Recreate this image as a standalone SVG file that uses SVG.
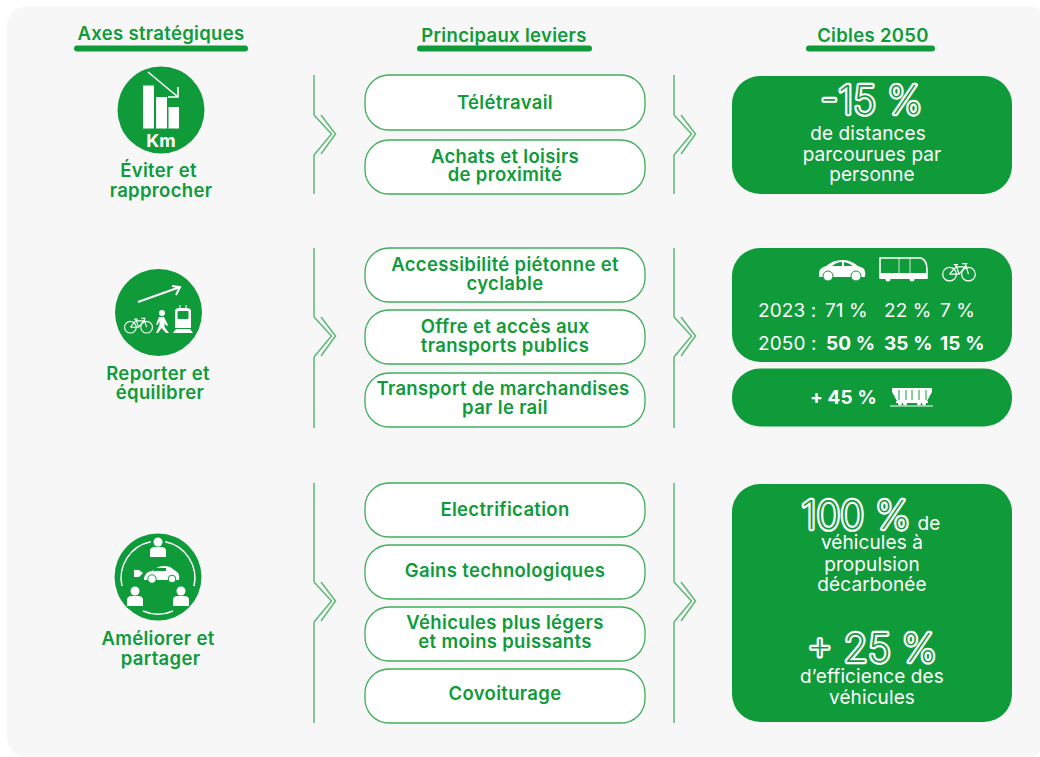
<svg xmlns="http://www.w3.org/2000/svg" width="1040" height="757" viewBox="0 0 1040 757">
<style>
text{font-family:Inter,"Liberation Sans",sans-serif;text-anchor:middle}
.h,.a,.l{font-size:18.5px;font-weight:600;fill:#0f9b3a;letter-spacing:.32px}
.w{font-size:19px;fill:#fff;letter-spacing:.1px}
.t{font-size:19px;fill:#fff;text-anchor:start;letter-spacing:.1px}
.b{font-weight:700}
.big{font-size:39.5px;font-weight:200;fill:#0f9b3a;stroke:#fff;stroke-width:4.4px;paint-order:stroke;stroke-linejoin:round}
.box{fill:#fff;stroke:#3fae5c;stroke-width:1.3}
.g{fill:#0f9b3a}
.u{stroke:#0f9b3a;stroke-width:6;stroke-linecap:round;fill:none}
.c{stroke:#5cb876;stroke-width:1.5;fill:none}
.s{stroke:#fff;fill:none;stroke-width:2}
.d{stroke:#0f9b3a;fill:none;stroke-width:1}
.f{fill:#fff}
</style>
<defs>
<g id="chev"><path class="c" d="M0 0L17.500 19L0 40"/><path class="c" d="M7 0L21.500 19L7 39"/></g>
<g id="person"><circle cx="0" cy="-13" r="4.500" class="f"/><path class="f" d="M-8 2V-4Q-8 -8 -3 -8H3Q8 -8 8 -4V2Z"/></g>
<g id="bike"><circle cx="-9" cy="3" r="6.500" fill="none" stroke="#fff" stroke-width="1.200"/><circle cx="9" cy="3" r="6.500" fill="none" stroke="#fff" stroke-width="1.200"/><path d="M-9 3L-3 -4H6L0 3H-9M-3 -6L0 3M6 -7L9 3M3 -7H8M-5 -6H-1" fill="none" stroke="#fff" stroke-width="1.200"/></g>
</defs>
<rect x="7" y="6" width="1040" height="751" rx="20" fill="#f7f7f7"/>
<g id="connectors">
<path class="c" d="M314 75V115M314 155V194M674 75V115M674 155V194"/>
<use href="#chev" x="314" y="115"/><use href="#chev" x="674" y="115"/>
<path class="c" d="M314 248V317M314 357V428M674 248V317M674 357V428"/>
<use href="#chev" x="314" y="317"/><use href="#chev" x="674" y="317"/>
<path class="c" d="M314 483V582M314 622V723M674 483V582M674 622V723"/>
<use href="#chev" x="314" y="582"/><use href="#chev" x="674" y="582"/>
</g>
<g id="headers">
<text class="h" x="161" y="40">Axes stratégiques</text><path class="u" d="M77 48.500H245"/>
<text class="h" x="504" y="42">Principaux leviers</text><path class="u" d="M420 48.500H589"/>
<text class="h" x="873" y="42">Cibles 2050</text><path class="u" d="M809 48.500H932"/>
</g>
<g id="axe1">
<circle class="g" cx="161" cy="110" r="43.500"/>
<rect class="f" x="143" y="85.500" width="11" height="43"/><rect class="f" x="156" y="97" width="11" height="31.500"/><rect class="f" x="168.500" y="107" width="10.500" height="21.500"/>
<path class="s" style="stroke-width:1.600" d="M148 72L178 97M168 97H178V87"/>
<text x="161" y="146.500" style="font-size:18px;font-weight:700;fill:#fff">Km</text>
<text class="a" x="158.500" y="177">Éviter et</text><text class="a" x="161" y="196.500">rapprocher</text>
</g>
<g id="axe2">
<circle class="g" cx="158.500" cy="312.500" r="43.500"/>
<path class="s" d="M138 302L180 287M172 286L180 287L176 295"/>
<use href="#bike" transform="translate(138.500 324.500) scale(.9)"/>
<circle cx="162" cy="313" r="3" class="f"/><path class="f" d="M159 317H164L168 325L166.500 326L164.500 323V327L169 333H166L161.500 328L158 333H156L159.500 325V321L157.500 325L156 324.500Z"/>
<path class="f" d="M175 311Q175 308 180 308H186Q191 308 191 311V328H175ZM173 333L176 329H190L193 333Z"/>
<rect class="g" x="177.500" y="311" width="11" height="8" rx="1"/><path class="s" style="stroke-width:1" d="M180 305V308M186 305V308"/>
<text class="a" x="158" y="380">Reporter et</text><text class="a" x="160" y="399">équilibrer</text>
</g>
<g id="axe3">
<circle class="g" cx="158" cy="577" r="43.500"/>
<path class="s" style="stroke-width:1.500" d="M150.700 541.700A37 37 0 0 0 122 586M165.300 541.700A37 37 0 0 1 194 586M143 611A37 37 0 0 0 173 611"/>
<use href="#person" x="158" y="555"/><use href="#person" x="135" y="604"/><use href="#person" x="181" y="604"/>
<path class="f" d="M144 578Q145 572 152 571Q160 564 170 567L177 572Q180 574 179 580H144Z"/><circle cx="152" cy="579" r="4.200" class="f" stroke="#0f9b3a"/><circle cx="172" cy="579" r="3.800" class="f" stroke="#0f9b3a"/><path class="g" d="M155 568H166V571H153Z"/><path class="f" d="M134 570H139L143 573L139 577H134Z"/>
<text class="a" x="158" y="645">Améliorer et</text><text class="a" x="160.500" y="665">partager</text>
</g>
<g id="levier1"><rect class="box" x="365" y="75" width="280" height="55" rx="24"/><text class="l" x="505" y="109">Télétravail</text></g>
<g id="levier2"><rect class="box" x="365" y="140" width="280" height="54" rx="24"/><text class="l" x="505" y="163">Achats et loisirs</text><text class="l" x="505" y="181">de proximité</text></g>
<g id="levier3"><rect class="box" x="365" y="248" width="280" height="54" rx="24"/><text class="l" x="505" y="271">Accessibilité piétonne et</text><text class="l" x="505" y="290">cyclable</text></g>
<g id="levier4"><rect class="box" x="365" y="310" width="280" height="54" rx="24"/><text class="l" x="505" y="333">Offre et accès aux</text><text class="l" x="505" y="352">transports publics</text></g>
<g id="levier5"><rect class="box" x="365" y="373" width="280" height="54" rx="24"/><text class="l" x="503" y="395">Transport de marchandises</text><text class="l" x="505" y="414">par le rail</text></g>
<g id="levier6"><rect class="box" x="365" y="483" width="280" height="54" rx="24"/><text class="l" x="505" y="516">Electrification</text></g>
<g id="levier7"><rect class="box" x="365" y="545" width="280" height="54" rx="24"/><text class="l" x="505" y="577">Gains technologiques</text></g>
<g id="levier8"><rect class="box" x="365" y="607" width="280" height="54" rx="24"/><text class="l" x="505" y="629">Véhicules plus légers</text><text class="l" x="505" y="648">et moins puissants</text></g>
<g id="levier9"><rect class="box" x="365" y="669" width="280" height="54" rx="24"/><text class="l" x="505" y="700">Covoiturage</text></g>
<g id="cible1"><rect class="g" x="732" y="76" width="280" height="118" rx="28"/>
<text class="big" x="871.500" y="113.500">-15 %</text>
<text class="w" x="868" y="140">de distances</text><text class="w" x="872" y="161">parcourues par</text><text class="w" x="872" y="181">personne</text></g>
<g id="cible2"><rect class="g" x="732" y="248" width="280" height="114" rx="28"/>
<path class="f" d="M819 273Q819 268 826 266Q834 259 845 260Q852 261 858 266L863 268Q866 270 865 277H819Z"/><path class="g" d="M832 266Q837 262 842 262V266ZM844 262Q849 263 853 266H844Z"/>
<circle cx="828" cy="276" r="5" class="f" stroke="#0f9b3a"/><circle cx="856" cy="276" r="5" class="f" stroke="#0f9b3a"/>
<path class="s" style="stroke-width:1.600" d="M880 258H921Q927 260 927 270V278H880Z"/><path class="f" d="M880 273H927V279H880Z"/><path class="d" style="stroke:#fff;stroke-width:.8" d="M899 258V273M910 258V273"/><circle cx="888" cy="279" r="2.500" class="f"/><circle cx="912" cy="279" r="2.500" class="f"/>
<use href="#bike" transform="translate(959 271) scale(1.050)"/>
<text class="t" x="758" y="317">2023 :</text><text class="t" x="825" y="317">71 %</text><text class="t" x="884" y="317">22 %</text><text class="t" x="940" y="317">7 %</text>
<text class="t" x="758" y="350">2050 :</text><text class="t b" x="826" y="350">50 %</text><text class="t b" x="884" y="350">35 %</text><text class="t b" x="940" y="350">15 %</text></g>
<g id="cible3"><rect class="g" x="732" y="368.500" width="280" height="58" rx="28"/>
<text class="t b" x="810" y="404">+ 45 %</text>
<path class="f" d="M892 388H932V392L927 401H897L892 392Z"/><path class="d" d="M899 390V400M906 390V400M912 390V400M919 390V400M926 390V400"/><path class="s" style="stroke-width:1" d="M890 406H933"/><rect class="f" x="896" y="401" width="32" height="2"/><circle cx="900" cy="403.500" r="2" class="f"/><circle cx="905" cy="403.500" r="2" class="f"/><circle cx="919" cy="403.500" r="2" class="f"/><circle cx="924" cy="403.500" r="2" class="f"/>
</g>
<g id="cible4"><rect class="g" x="732" y="484" width="280" height="238" rx="28"/>
<text class="big" x="856" y="529">100 %</text><text class="w" x="929" y="530">de</text>
<text class="w" x="872" y="549">véhicules à</text><text class="w" x="872" y="571">propulsion</text><text class="w" x="872" y="591">décarbonée</text>
<text class="big" x="872" y="661.500">+ 25 %</text>
<text class="w" x="872" y="683">d’efficience des</text><text class="w" x="872" y="704">véhicules</text></g>
</svg>
